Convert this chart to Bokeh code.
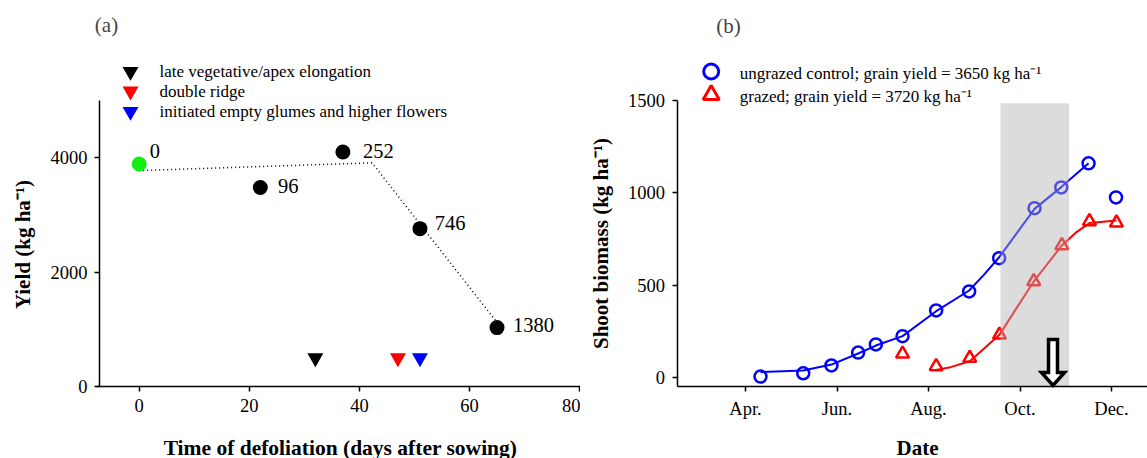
from bokeh.plotting import figure
from bokeh.layouts import row
from bokeh.models import Range1d, FixedTicker, Label
from bokeh.core.properties import value
from bokeh.embed import file_html
from bokeh.resources import INLINE

FONT = "Liberation Serif"

# ---------------- Panel (a) data ----------------
defol_days = [0, 22, 37, 51, 65]
defol_yield = [3890, 3480, 4100, 2760, 1030]
defol_labels = ["0", "96", "252", "746", "1380"]
defol_colors = ["#11ee11", "black", "black", "black", "black"]
fit_days = [0, 42.3, 65]
fit_yield = [3775, 3910, 1120]
stage_names = ["late vegetative/apex elongation", "double ridge",
               "initiated empty glumes and higher flowers"]
stage_days = [32, 47, 51]
stage_level = [500, 500, 500]
stage_colors = ["black", "red", "blue"]
a_xticks = [0, 20, 40, 60, 80]
a_yticks = [0, 2000, 4000]

# ---------------- Panel (b) data ----------------
month_ticks = [91, 152, 213, 274, 335]          # day of year
month_labels = ["Apr.", "Jun.", "Aug.", "Oct.", "Dec."]
b_yticks = [0, 500, 1000, 1500]
ung_doy = [101, 129.5, 148.3, 166.1, 177.9, 195.7, 218.1, 240.1, 260.1, 283.7, 301.5, 319.7, 338]
ung_bio = [5, 23, 65, 135, 179, 224, 363, 466, 646, 917, 1029, 1160, 975]
graz_doy = [195.7, 218.1, 240.5, 260.3, 283.2, 301.9, 320.3, 338.3]
graz_bio = [128, 60, 105, 231, 520, 715, 845, 838]
ung_fit_doy = [101, 129.5, 148.3, 166.1, 177.9, 195.7, 218.1, 240.1, 249.9, 260.1, 283.7, 301.5, 319.7]
ung_fit_bio = [29, 38, 70, 130, 173, 224, 359, 471, 556, 651, 913, 1031, 1160]
graz_fit_doy = [217, 227.7, 240.5, 249.9, 260.3, 272.1, 283.2, 301.9, 311, 320.3, 338.3]
graz_fit_bio = [40, 56, 88, 156, 231, 381, 520, 715, 783, 836, 850]
grazing_start, grazing_end = 261, 306.7
arrow_doy, arrow_top, arrow_tip = 296, 206, -43
legend_b = ["ungrazed control; grain yield = 3650 kg ha\u207b\u00b9",
            "grazed; grain yield = 3720 kg ha\u207b\u00b9"]

# ---------- pixel helpers (placement of panels / annotations) ----------
def ax(px):
    return (px - 138.7) / 5.505
def ay(py):
    return (386 - py) * 5000 / 286
def bx(px):
    return 91 + (px - 745) / 1.5
def by(py):
    return (377 - py) * 1500 / 277

def style(p):
    p.outline_line_color = None
    p.xgrid.visible = False
    p.ygrid.visible = False
    for a in (p.xaxis, p.yaxis):
        a.axis_line_width = 1.5
        a.axis_line_color = "black"
        a.major_tick_line_color = "black"
        a.major_tick_line_width = 1.5
        a.major_tick_in = 0
        a.major_tick_out = 5
        a.minor_tick_line_color = None
        a.major_label_text_font = FONT
        a.major_label_text_font_size = "18.5px"
        a.major_label_text_color = "black"
        a.major_label_standoff = 7

def title_label(x, y, text, angle=0, size="21px"):
    return Label(x=x, y=y, text=text, angle=angle, angle_units="deg", text_font=FONT,
                 text_font_size=size, text_font_style="bold", text_align="center",
                 text_baseline="middle", text_color="black")

# ================= Panel (a) =================
p1 = figure(width=580, height=458, output_backend="svg", toolbar_location=None,
            x_range=Range1d(ax(0), ax(580)), y_range=Range1d(ay(458), ay(0)),
            min_border_left=0, min_border_right=0, min_border_top=0, min_border_bottom=0)
style(p1)
p1.xaxis.ticker = FixedTicker(ticks=a_xticks)
p1.yaxis.ticker = FixedTicker(ticks=a_yticks)
p1.yaxis.fixed_location = ax(99)
p1.xaxis.fixed_location = 0
p1.yaxis.bounds = (0, 5000)
p1.xaxis.bounds = (ax(96), ax(582))

p1.line(fit_days, fit_yield, line_color="black", line_width=1.5, line_dash="1 3")
p1.scatter(defol_days, defol_yield, marker="circle", size=15, fill_color=defol_colors,
           line_color=None)
lab_dx = [10.6, 17.7, 20, 14.7, 16]
lab_dy = [12.6, 1.7, 1, 5.3, 2.3]
p1.text([d + dx / 5.505 for d, dx in zip(defol_days, lab_dx)],
        [v + dy * 5000 / 286 for v, dy in zip(defol_yield, lab_dy)],
        text=defol_labels, text_font=value(FONT), text_font_size="20.5px",
        text_baseline="middle", text_align="left", text_color="black")
p1.scatter(stage_days, stage_level, marker="inverted_triangle", size=16,
           fill_color=stage_colors, line_color=None)
# legend (a)
leg_y = [ay(71), ay(90.7), ay(111)]
p1.scatter([ax(130)] * 3, leg_y, marker="inverted_triangle", size=16,
           fill_color=stage_colors, line_color=None)
p1.text([ax(159)] * 3, leg_y, text=stage_names, text_font=value(FONT),
        text_font_size="17px", text_baseline="middle", text_align="left", text_color="black")
p1.add_layout(Label(x=ax(106), y=ay(24), text="(a)", text_font=FONT, text_font_size="21px",
                    text_align="center", text_baseline="middle"))
p1.add_layout(title_label(ax(22), ay(244), "Yield (kg ha\u207b\u00b9)", 90))
p1.add_layout(title_label(ax(340), ay(447), "Time of defoliation (days after sowing)",
                          size="21.5px"))

# ================= Panel (b) =================
p2 = figure(width=567, height=458, output_backend="svg", toolbar_location=None,
            x_range=Range1d(bx(580), bx(1147)), y_range=Range1d(by(458), by(0)),
            min_border_left=0, min_border_right=0, min_border_top=0, min_border_bottom=0)
style(p2)
p2.xaxis.ticker = FixedTicker(ticks=month_ticks)
p2.xaxis.major_label_overrides = {t: l for t, l in zip(month_ticks, month_labels)}
p2.yaxis.ticker = FixedTicker(ticks=b_yticks)
p2.yaxis.fixed_location = bx(676.6)
p2.xaxis.fixed_location = by(386)
p2.yaxis.bounds = (by(386), 1500)
p2.xaxis.bounds = (bx(676.6), bx(1147))

p2.line(ung_fit_doy, ung_fit_bio, line_color="#0000ff", line_width=2)
p2.line(graz_fit_doy, graz_fit_bio, line_color="#ff0000", line_width=2)
p2.scatter(ung_doy, ung_bio, marker="circle", size=12, fill_color=None,
           line_color="#0000ff", line_width=2.5)
p2.scatter(graz_doy, graz_bio, marker="triangle", size=13, fill_color=None,
           line_color="#ff0000", line_width=2.5)
# grazing period shading
p2.quad(left=[grazing_start], right=[grazing_end], bottom=[by(386)], top=[by(102.7)],
        fill_color="#b2b2b2", fill_alpha=0.45, line_color=None)
# hollow arrow
sw = 3.0      # shaft half width (days)
hw = 7.7      # head half width (days)
head_base = by(372)
p2.patch([arrow_doy - sw, arrow_doy + sw, arrow_doy + sw, arrow_doy + hw, arrow_doy,
          arrow_doy - hw, arrow_doy - sw],
         [arrow_top, arrow_top, head_base, head_base, arrow_tip, head_base, head_base],
         fill_color="white", line_color="black", line_width=3.5, line_join="miter")
# legend (b)
p2.scatter([bx(710.7)], [by(71)], marker="circle", size=15, fill_color=None,
           line_color="#0000ff", line_width=3)
p2.scatter([bx(710.7)], [by(94.3)], marker="triangle", size=16, fill_color=None,
           line_color="#ff0000", line_width=3)
p2.text([bx(739.3)] * 2, [by(73.3), by(95.7)], text=legend_b, text_font=value(FONT),
        text_font_size="17px", text_baseline="middle", text_align="left", text_color="black")
p2.add_layout(Label(x=bx(728), y=by(25), text="(b)", text_font=FONT, text_font_size="21px",
                    text_align="center", text_baseline="middle"))
p2.add_layout(title_label(bx(600), by(243), "Shoot biomass (kg ha\u207b\u00b9)", 90))
p2.add_layout(title_label(bx(917), by(447), "Date"))

layout = row(p1, p2, spacing=0)
open("out.html", "w").write(file_html(layout, INLINE))
